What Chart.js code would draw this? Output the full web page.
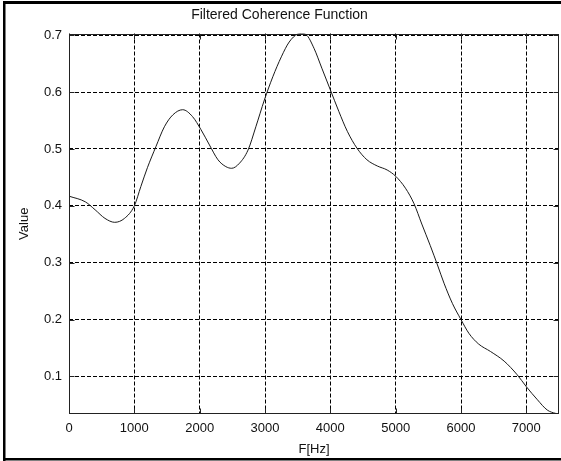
<!DOCTYPE html>
<html>
<head>
<meta charset="utf-8">
<title>Filtered Coherence Function</title>
<script src="https://cdn.jsdelivr.net/npm/chart.js@4/dist/chart.umd.min.js"></script>
<style>
  html, body { margin: 0; padding: 0; background: #fff; }
  canvas { display: block; }
</style>
</head>
<body>
<canvas id="chart" width="561" height="461"></canvas>
<script>
// Frequency samples (Hz) and the filtered coherence at each of them
const freqHz = [
  0, 250, 400, 550, 700, 850, 1000, 1100, 1200, 1330, 1460, 1590, 1740, 1890,
  2020, 2150, 2280, 2400, 2490, 2610, 2740, 2860, 2990, 3120, 3250, 3370, 3500,
  3560, 3630, 3750, 3870, 4000, 4130, 4260, 4410, 4560, 4720, 4870, 5000, 5150,
  5280, 5400, 5530, 5640, 5740, 5870, 6000, 6120, 6270, 6450, 6660, 6860, 7000,
  7170, 7320, 7450, 7500
];
const coherence = [
  0.417, 0.407, 0.393, 0.378, 0.371, 0.378, 0.400, 0.434, 0.467, 0.504, 0.539,
  0.560, 0.569, 0.557, 0.534, 0.507, 0.481, 0.469, 0.466, 0.475, 0.498, 0.539,
  0.586, 0.627, 0.662, 0.688, 0.702, 0.703, 0.701, 0.677, 0.642, 0.604, 0.566,
  0.531, 0.501, 0.481, 0.470, 0.463, 0.452, 0.431, 0.404, 0.368, 0.330, 0.296,
  0.264, 0.228, 0.200, 0.176, 0.157, 0.144, 0.127, 0.103, 0.082, 0.059, 0.041,
  0.035, 0.034
];

// Axis ticks
const xTicks = [0, 1000, 2000, 3000, 4000, 5000, 6000, 7000];
const yTicks = [0.1, 0.2, 0.3, 0.4, 0.5, 0.6, 0.7];

const FONT = '"Liberation Sans", Arial, Helvetica, sans-serif';
const INK = '#111';

// White page with a heavy black frame on three sides
const framePlugin = {
  id: 'frame',
  beforeDraw(chart) {
    const ctx = chart.ctx;
    ctx.save();
    ctx.fillStyle = '#fff';
    ctx.fillRect(0, 0, chart.width, chart.height);
    ctx.fillStyle = '#000';
    ctx.fillRect(3, 1, chart.width - 3, 3);
    ctx.fillRect(3, 1, 2.5, chart.height - 1);
    ctx.fillRect(3, 458, chart.width - 3, 2.5);
    ctx.restore();
  }
};

// Solid box around the plot area with short inward tick marks
const axesBoxPlugin = {
  id: 'axesBox',
  afterDraw(chart) {
    const { ctx, chartArea: a, scales } = chart;
    const L = Math.round(a.left) + 0.5, R = Math.round(a.right) - 0.5;
    const T = Math.round(a.top) + 0.5, B = Math.round(a.bottom) - 0.5;
    const len = 5;
    ctx.save();
    ctx.strokeStyle = '#222';
    ctx.lineWidth = 1;
    ctx.setLineDash([]);
    ctx.strokeRect(L, T, R - L, B - T);
    ctx.beginPath();
    xTicks.forEach(v => {
      const px = Math.round(scales.x.getPixelForValue(v)) + 0.5;
      ctx.moveTo(px, B); ctx.lineTo(px, B - len);
      ctx.moveTo(px, T); ctx.lineTo(px, T + len);
    });
    yTicks.forEach(v => {
      const py = Math.round(scales.y.getPixelForValue(v)) + 0.5;
      ctx.moveTo(L, py); ctx.lineTo(L + len, py);
      ctx.moveTo(R, py); ctx.lineTo(R - len, py);
    });
    ctx.stroke();
    ctx.restore();
  }
};

new Chart(document.getElementById('chart'), {
  type: 'line',
  data: {
    datasets: [{
      data: freqHz.map((f, i) => ({ x: f, y: coherence[i] })),
      borderColor: '#1a1a1a',
      borderWidth: 1,
      pointRadius: 0,
      fill: false,
      cubicInterpolationMode: 'monotone'
    }]
  },
  options: {
    responsive: false,
    animation: false,
    events: [],
    layout: { padding: { left: 0, right: 2, top: 0, bottom: 0 } },
    plugins: {
      legend: { display: false },
      tooltip: { enabled: false },
      title: {
        display: true,
        text: 'Filtered Coherence Function',
        color: INK,
        font: { family: FONT, size: 14, weight: 'normal' },
        padding: { top: 6.6, bottom: 10.1 }
      }
    },
    scales: {
      x: {
        type: 'linear',
        min: 0,
        max: 7500,
        afterBuildTicks: s => { s.ticks = xTicks.map(v => ({ value: v })); },
        afterFit: s => { s.height = 47; },
        ticks: {
          color: INK,
          font: { family: FONT, size: 13 },
          padding: 7,
          maxRotation: 0,
          autoSkip: false,
          callback: v => String(v)
        },
        grid: { color: '#000', lineWidth: 1, drawTicks: false },
        border: { display: false, dash: [4, 2] },
        title: {
          display: true,
          text: 'F[Hz]',
          color: INK,
          font: { family: FONT, size: 13 },
          padding: { top: 0, bottom: 3.7 }
        }
      },
      y: {
        type: 'linear',
        min: 0.034,
        max: 0.703,
        afterBuildTicks: s => { s.ticks = yTicks.map(v => ({ value: v })); },
        afterFit: s => { s.width = 69; },
        ticks: {
          color: INK,
          font: { family: FONT, size: 13 },
          padding: 7,
          autoSkip: false,
          callback: v => Number(v).toFixed(1)
        },
        grid: { color: '#000', lineWidth: 1, drawTicks: false },
        border: { display: false, dash: [4, 2] },
        title: {
          display: true,
          text: 'Value',
          color: INK,
          font: { family: FONT, size: 13 },
          padding: { top: 17, bottom: 0 }
        }
      }
    }
  },
  plugins: [framePlugin, axesBoxPlugin]
});
</script>
</body>
</html>
